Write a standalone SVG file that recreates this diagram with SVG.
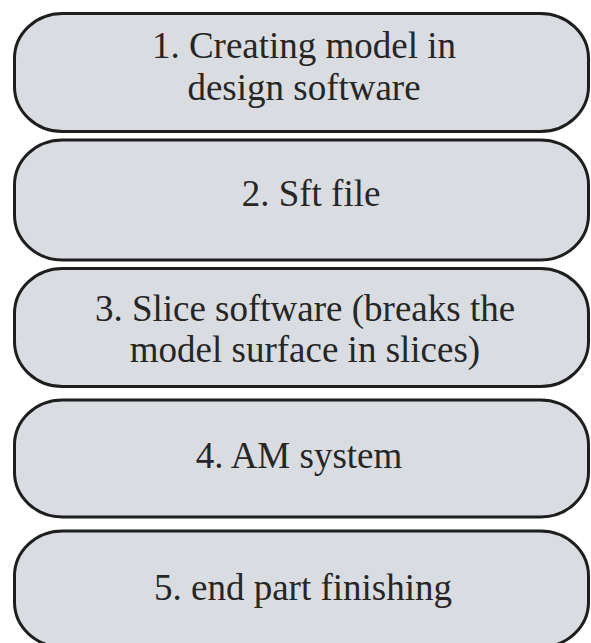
<svg xmlns="http://www.w3.org/2000/svg" width="591" height="643" viewBox="0 0 591 643">
<style>
.box{fill:#d9dce0;stroke:#1e1e1e;stroke-width:3}
.t{font-family:"Liberation Serif","Times New Roman",serif;font-size:37px;fill:#262626;text-anchor:middle}
</style>
<rect width="591" height="643" fill="#ffffff"/>
<g id="node1">
<rect class="box" x="14.5" y="13.5" width="574" height="118" rx="48" ry="45"/>
<text class="t" x="304" y="58">1. Creating model in</text>
<text class="t" x="304" y="100">design software</text>
</g>
<g id="node2">
<rect class="box" x="14.5" y="140" width="574" height="120" rx="48" ry="45"/>
<text class="t" x="311" y="206">2. Sft file</text>
</g>
<g id="node3">
<rect class="box" x="14.5" y="268.5" width="574" height="118" rx="48" ry="45"/>
<text class="t" x="305" y="321">3. Slice software (breaks the</text>
<text class="t" x="305" y="362">model surface in slices)</text>
</g>
<g id="node4">
<rect class="box" x="14.5" y="400" width="574" height="117" rx="48" ry="45"/>
<text class="t" x="299" y="468">4. AM system</text>
</g>
<g id="node5">
<rect class="box" x="14.5" y="531" width="574" height="116" rx="48" ry="45"/>
<text class="t" x="303" y="600">5. end part finishing</text>
</g>
<g id="connectors"></g>
</svg>
